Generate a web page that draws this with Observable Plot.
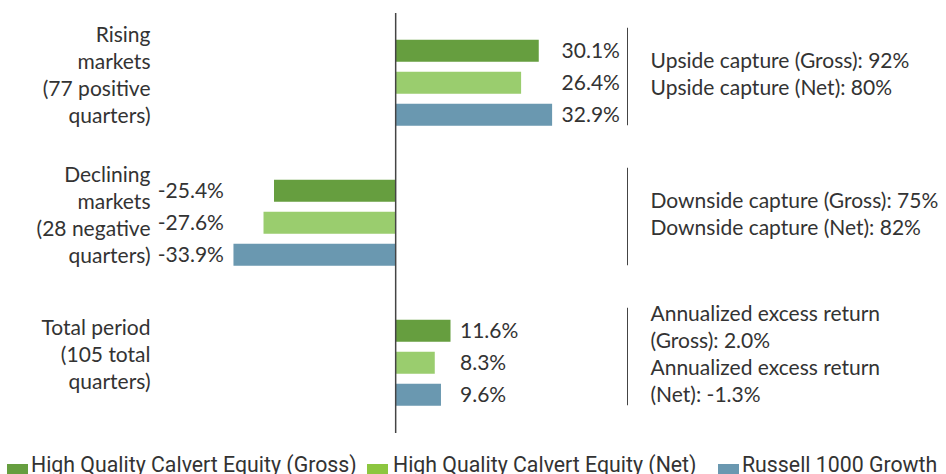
<!DOCTYPE html>
<html>
<head>
<meta charset="utf-8">
<script src="https://cdn.jsdelivr.net/npm/d3@7"></script>
<script src="https://cdn.jsdelivr.net/npm/@observablehq/plot@0.6"></script>
<style>
  html, body { margin: 0; padding: 0; background: #fff; overflow: hidden; }
  #wrap { position: relative; width: 946px; height: 474px; overflow: hidden; }
  #legend { position: absolute; left: 0; top: 452px; width: 946px; height: 30px;
    font-family: "Liberation Sans Narrow", "Roboto", sans-serif; font-size: 21.3px; color: #333; white-space: nowrap; }
  #legend .item { position: absolute; top: 0; display: flex; align-items: center; }
  #legend .sw { width: 21px; height: 11px; margin-top: 9px; }
</style>
</head>
<body>
<div id="wrap"><div id="chart"></div><div id="legend"></div></div>
<script>
const groups = ["Rising", "Declining", "Total"];
const groupLabels = ["Rising\nmarkets\n(77 positive\nquarters)", "Declining\nmarkets\n(28 negative\nquarters)", "Total period\n(105 total\nquarters)"];
const series = ["High Quality Calvert Equity (Gross)", "High Quality Calvert Equity (Net)", "Russell 1000 Growth"];
const grossValues = [30.1, -25.4, 11.6];
const netValues = [26.4, -27.6, 8.3];
const russellValues = [32.9, -33.9, 9.6];
const notes = [
  "Upside capture (Gross): 92%\nUpside capture (Net): 80%",
  "Downside capture (Gross): 75%\nDownside capture (Net): 82%",
  "Annualized excess return\n(Gross): 2.0%\nAnnualized excess return\n(Net): -1.3%"
];
const barColors = ["#669e3f", "#9acd6e", "#6a98b0"];
const legendColors = ["#669e3f", "#8cc63f", "#6a98b0"];

const seriesValues = [grossValues, netValues, russellValues];
const rows = [];
groups.forEach((g, gi) => {
  const vals = seriesValues.map(s => s[gi]);
  const extreme = vals[0] >= 0 ? d3.max(vals) : d3.min(vals);
  series.forEach((s, si) => {
    rows.push({group: g, gi, series: s, value: seriesValues[si][gi], extreme});
  });
});

const xDomain = [-49.3, 48.6];
const font = "Lato, 'Open Sans', sans-serif";
const fs = 21;
const lh = 27 / 21;

const chart = Plot.plot({
  width: 946,
  height: 440,
  marginLeft: 160,
  marginRight: 319,
  marginTop: 12.25,
  marginBottom: 6.25,
  style: {fontFamily: font, fontSize: fs + "px", color: "#333", background: "#fff"},
  facet: {data: rows, y: "group"},
  fy: {domain: groups, padding: 0, axis: null},
  y: {domain: series, paddingInner: 0.3, paddingOuter: 0.779, axis: null},
  x: {domain: xDomain, axis: null},
  color: {domain: series, range: barColors},
  marks: [
    Plot.barX(rows, {x: "value", y: "series", fill: "series"}),
    Plot.ruleX([0], {stroke: "#444", strokeWidth: 1.5}),
    Plot.ruleX([xDomain[1]], {stroke: "#444", strokeWidth: 1, insetTop: 14.75, insetBottom: 27.75}),
    Plot.text(rows, {
      filter: d => d.value >= 0,
      x: "extreme", y: "series",
      text: d => d.value.toFixed(1) + "%",
      textAnchor: "start", dx: 9,
      fill: "#333", fontSize: fs
    }),
    Plot.text(rows, {
      filter: d => d.value < 0,
      x: "extreme", y: "series",
      text: d => d.value.toFixed(1) + "%",
      textAnchor: "end", dx: -10,
      fill: "#333", fontSize: fs
    }),
    Plot.text(rows, {
      filter: d => d.series === series[0],
      frameAnchor: "left", dx: -10, dy: -10,
      textAnchor: "end", lineHeight: lh,
      text: d => groupLabels[d.gi], fill: "#333", fontSize: fs
    }),
    Plot.text(rows, {
      filter: d => d.series === series[0],
      x: () => xDomain[1], dx: 23, dy: -10.5,
      textAnchor: "start", lineHeight: lh,
      text: d => notes[d.gi], fill: "#333", fontSize: fs
    })
  ]
});
document.getElementById("chart").appendChild(chart);

const legend = document.getElementById("legend");
const legendLeft = [7, 367, 718];
const legendGap = [3, 5, 3];
series.forEach((s, i) => {
  const item = document.createElement("div");
  item.className = "item";
  item.style.left = legendLeft[i] + "px";
  const sw = document.createElement("span");
  sw.className = "sw";
  sw.style.background = legendColors[i];
  sw.style.marginRight = legendGap[i] + "px";
  const t = document.createElement("span");
  t.textContent = s;
  item.appendChild(sw);
  item.appendChild(t);
  legend.appendChild(item);
});
</script>
</body>
</html>
